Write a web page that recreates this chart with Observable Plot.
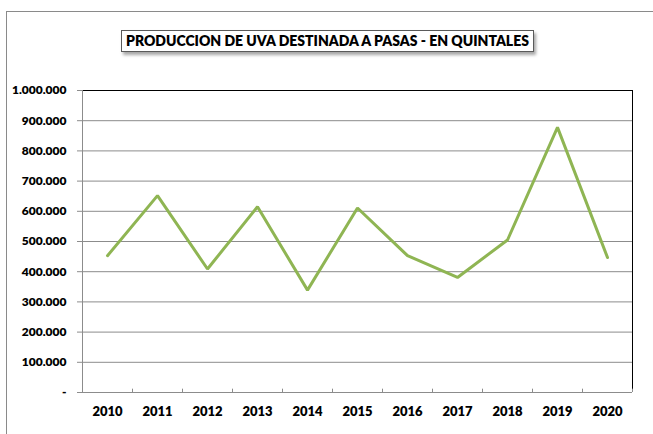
<!DOCTYPE html>
<html>
<head>
<meta charset="utf-8">
<script src="https://cdn.jsdelivr.net/npm/d3@7"></script>
<script src="https://cdn.jsdelivr.net/npm/@observablehq/plot@0.6"></script>
<style>
  html, body { margin: 0; padding: 0; background: #fff; }
  #wrap { position: relative; width: 653px; height: 434px; overflow: hidden; font-family: Lato, "Open Sans", sans-serif; }
  #frame { position: absolute; left: 6px; top: 11px; width: 700px; height: 500px; border-left: 1px solid #8a8a8a; border-top: 1px solid #8a8a8a; }
  #title { position: absolute; left: 121px; top: 30px; width: 413px; height: 22px; box-sizing: border-box; border: 1px solid #5a5a5a; background: #fff; box-shadow: 2px 3px 3px rgba(0,0,0,0.35); font-weight: 800; font-size: 14px; line-height: 20px; text-align: center; color: #000; white-space: nowrap; z-index: 2; }
  #chart { position: absolute; left: 0; top: 0; }
</style>
</head>
<body>
<div id="wrap">
  <div id="frame"></div>
  <div id="chart"></div>
  <div id="title">PRODUCCION DE UVA DESTINADA A PASAS - EN QUINTALES</div>
</div>
<script>
const years = [2010, 2011, 2012, 2013, 2014, 2015, 2016, 2017, 2018, 2019, 2020];
const quintales = [453000, 652000, 409000, 615000, 339000, 611000, 453000, 381000, 505000, 878000, 447000];
const yTicks = [0, 100000, 200000, 300000, 400000, 500000, 600000, 700000, 800000, 900000, 1000000];
const yTickLabels = ["-", "100.000", "200.000", "300.000", "400.000", "500.000", "600.000", "700.000", "800.000", "900.000", "1.000.000"];

const data = years.map((y, i) => ({year: y, value: quintales[i]}));
const boundaries = [years[0] - 0.5, ...years.map(y => y + 0.5)];
const xMin = boundaries[0], xMax = boundaries[boundaries.length - 1];
const yTickData = yTicks.map((v, i) => ({v, label: yTickLabels[i]}));

const chart = Plot.plot({
  width: 653,
  height: 434,
  marginLeft: 82,
  marginRight: 21,
  marginTop: 90,
  marginBottom: 42,
  x: {type: "linear", domain: [xMin, xMax], axis: null},
  y: {type: "linear", domain: [0, 1000000], axis: null},
  style: {fontFamily: "Lato, 'Open Sans', sans-serif", background: "transparent", overflow: "visible"},
  marks: [
    Plot.ruleY(yTicks.filter(v => v > 0 && v < 1000000), {y: d => d, x1: xMin, x2: xMax, stroke: "#8c8c8c", strokeWidth: 1}),
    Plot.ruleY([1000000], {y: d => d, x1: xMin, x2: xMax, stroke: "#000", strokeWidth: 1}),
    Plot.ruleX([xMax], {x: d => d, y1: 0, y2: 1000000, stroke: "#000", strokeWidth: 1}),
    Plot.ruleX([xMin], {x: d => d, y1: 0, y2: 1000000, stroke: "#8c8c8c", strokeWidth: 1}),
    Plot.ruleY([0], {y: d => d, x1: xMin, x2: xMax, stroke: "#8c8c8c", strokeWidth: 1}),
    Plot.ruleY(yTicks, {y: d => d, x1: xMin - 0.1, x2: xMin, stroke: "#8c8c8c", strokeWidth: 1}),
    Plot.ruleX(boundaries, {x: d => d, y1: 0, y2: 11000, stroke: "#8c8c8c", strokeWidth: 1}),
    Plot.text(yTickData, {x: xMin, y: "v", text: "label", dx: -16, textAnchor: "end", fontSize: 12, fontWeight: 800, fill: "#000"}),
    Plot.text(years, {x: d => d, y: 0, text: d => String(d), dy: 19, fontSize: 13, fontWeight: 800, fill: "#000"}),
    Plot.line(data, {x: "year", y: "value", stroke: "#8fb553", strokeWidth: 3, strokeLinejoin: "miter", strokeLinecap: "round"})
  ]
});
document.getElementById("chart").appendChild(chart);
</script>
</body>
</html>
